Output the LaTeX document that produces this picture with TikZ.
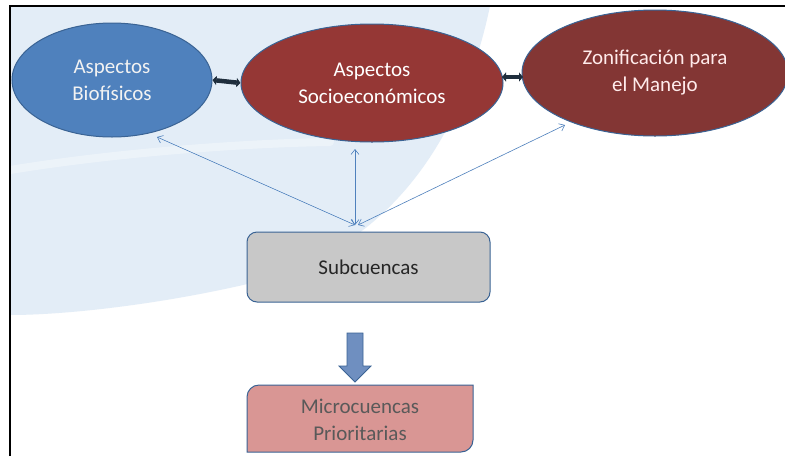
\documentclass[tikz,border=0pt]{standalone}
\usepackage{fontspec}
\setmainfont{Carlito}
\usetikzlibrary{shapes.geometric,arrows.meta}
\definecolor{bgblue}{HTML}{E3EDF7}
\definecolor{bioblue}{HTML}{4F81BD}
\definecolor{edgeblue}{HTML}{3A6394}
\definecolor{socred}{HTML}{953735}
\definecolor{zonred}{HTML}{833634}
\definecolor{navy}{HTML}{1F2E3D}
\definecolor{subgrey}{HTML}{C8C8C8}
\definecolor{micpink}{HTML}{D99694}
\definecolor{arrowfill}{HTML}{6F8FC0}
\tikzset{
  oval/.style={ellipse, draw=edgeblue, line width=1pt, align=center,
    font=\fontsize{21}{27}\selectfont, inner sep=0pt},
  thinarrow/.style={draw=bioblue, line width=0.6pt, {Straight Barb[length=5pt,width=8pt]}-{Straight Barb[length=5pt,width=8pt]}},
  thickarrow/.style={draw=navy, line width=4.5pt, {Triangle[length=4pt,width=9pt]}-{Triangle[length=4pt,width=9pt]}},
  boxtext/.style={align=center, font=\fontsize{21}{27}\selectfont}
}
\begin{document}
\begin{tikzpicture}[x=1pt,y=-1pt]
\useasboundingbox (0,0) rectangle (785,456);
\fill[white] (0,0) rectangle (785,456);
% background swoosh
\fill[bgblue] (10,6) -- (490,6) .. controls (462,140) and (390,245) .. (260,281)
  .. controls (170,303) and (70,315) .. (10,315) -- cycle;
\draw[white, opacity=0.35, line width=8pt, line cap=round]
  (10,170) .. controls (120,152) and (250,143) .. (330,142);
% frame
\draw[black, line width=1.6pt] (10,456) -- (10,6) -- (785,6);
% nodes
\node[oval, fill=bioblue, text=white!95!black, minimum width=200pt, minimum height=114pt] (bio) at (112,80) {Aspectos\\Biofísicos};
\node[oval, fill=socred, text=white, minimum width=262pt, minimum height=118pt] (soc) at (372,83) {Aspectos\\Socioeconómicos};
\node[oval, fill=zonred, text=red!8!white, minimum width=266pt, minimum height=126pt] (zon) at (655,73) {Zonificación para\\el Manejo};
\node[draw=edgeblue, line width=1pt, fill=subgrey, rounded corners=10pt, minimum width=243pt, minimum height=70pt, boxtext, text=black!85] (sub) at (368.5,267) {Subcuencas};
\fill[micpink, draw=edgeblue, line width=1pt]
  (247,452) -- (247,397) arc[start angle=180, end angle=270, radius=12] -- (473,385) -- (473,440)
  arc[start angle=0, end angle=90, radius=12] -- cycle;
\node[boxtext, text=black!65] (mic) at (360,420) {Microcuencas\\Prioritarias};
% block arrow
\draw[fill=arrowfill, draw=edgeblue, line width=0.8pt]
  (347,333) -- (363,333) -- (363,366) -- (371,366) -- (355,382) -- (339,366) -- (347,366) -- cycle;
% connectors
\coordinate (hub) at (355,225);
\coordinate (bioend) at (157,137);
\coordinate (socend) at (355,149);
\coordinate (zonend) at (565,125);
\coordinate (sz1) at (502,77);
\coordinate (sz2) at (523,77);
\draw[thinarrow] (bioend) -- (hub);
\draw[thinarrow] (socend) -- (hub);
\draw[thinarrow] (zonend) -- (358,225);
\draw[thickarrow] (bio.east) -- (soc.west);
\draw[thickarrow] (sz1) -- (sz2);
\end{tikzpicture}
\end{document}
